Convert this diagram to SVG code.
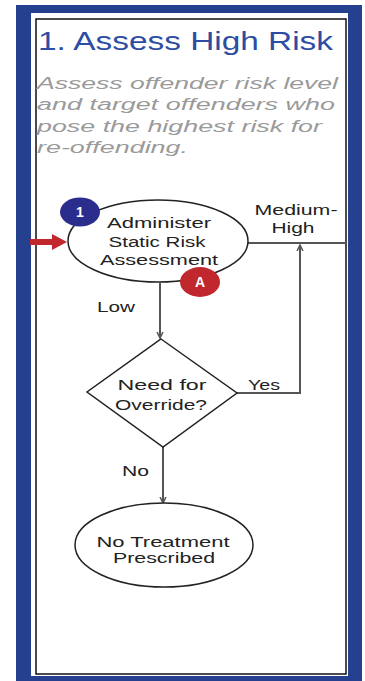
<svg xmlns="http://www.w3.org/2000/svg" width="365" height="681" viewBox="0 0 365 681">
<defs>
<style>
.t{font-family:"Liberation Sans",Arial,sans-serif;font-size:14px;fill:#222;}
.sub{font-family:"Liberation Sans",Arial,sans-serif;font-size:16px;font-style:italic;fill:#9a9a9a;}
.title{font-family:"Liberation Sans",Arial,sans-serif;font-size:26px;fill:#2c4da3;}
.shape{fill:#fff;stroke:#222;stroke-width:1.5;}
.conn{fill:none;stroke:#555;stroke-width:2;}
.badge{font-family:"Liberation Sans",Arial,sans-serif;font-size:14px;font-weight:bold;fill:#fff;}
</style>
<marker id="arr" markerWidth="8" markerHeight="8" refX="6" refY="4" orient="auto" markerUnits="userSpaceOnUse">
<path d="M0,1 L6,4 L0,7" fill="none" stroke="#555" stroke-width="1.5"/>
</marker>
</defs>
<rect x="0" y="0" width="365" height="681" fill="#fff"/>
<rect x="16" y="5" width="346" height="676" fill="#24408e"/>
<rect x="31" y="13" width="317" height="663" fill="#fff"/>
<rect x="36" y="19" width="310" height="655" fill="none" stroke="#111" stroke-width="1.5"/>

<g id="title">
<text class="title" x="38" y="50" textLength="295" lengthAdjust="spacingAndGlyphs">1. Assess High Risk</text>
</g>
<g id="subtitle">
<text class="sub" x="37" y="89" textLength="301" lengthAdjust="spacingAndGlyphs">Assess offender risk level</text>
<text class="sub" x="37" y="110" textLength="298" lengthAdjust="spacingAndGlyphs">and target offenders who</text>
<text class="sub" x="37" y="132" textLength="285" lengthAdjust="spacingAndGlyphs">pose the highest risk for</text>
<text class="sub" x="37" y="153" textLength="151" lengthAdjust="spacingAndGlyphs">re-offending.</text>
</g>

<g id="connectors">
<path class="conn" d="M248,243 H346"/>
<path class="conn" d="M160,283 V338" marker-end="url(#arr)"/>
<path class="conn" d="M237,393 H300 V245" marker-end="url(#arr)"/>
<path class="conn" d="M163,447 V503" marker-end="url(#arr)"/>
<text class="t" x="97" y="312" textLength="38" lengthAdjust="spacingAndGlyphs">Low</text>
<text class="t" x="296" y="215" text-anchor="middle" textLength="83" lengthAdjust="spacingAndGlyphs">Medium-</text>
<text class="t" x="293" y="233" text-anchor="middle" textLength="43" lengthAdjust="spacingAndGlyphs">High</text>
<text class="t" x="248" y="390" textLength="32" lengthAdjust="spacingAndGlyphs">Yes</text>
<text class="t" x="122" y="476" textLength="27" lengthAdjust="spacingAndGlyphs">No</text>
</g>

<g id="entry-arrow">
<path d="M30,239 H52 V234 L67,242 L52,250 V245 H30 Z" fill="#c0282d"/>
</g>

<g id="node-assess">
<ellipse class="shape" cx="158" cy="241" rx="90" ry="41"/>
<text class="t" x="159" y="228" text-anchor="middle" textLength="104" lengthAdjust="spacingAndGlyphs">Administer</text>
<text class="t" x="157" y="247" text-anchor="middle" textLength="97" lengthAdjust="spacingAndGlyphs">Static Risk</text>
<text class="t" x="159" y="265" text-anchor="middle" textLength="118" lengthAdjust="spacingAndGlyphs">Assessment</text>
</g>

<g id="badge-1">
<ellipse cx="80" cy="212" rx="20" ry="14.5" fill="#2b2d8c"/>
<text class="badge" x="80" y="217" text-anchor="middle">1</text>
</g>

<g id="badge-A">
<ellipse cx="200" cy="282" rx="20" ry="15" fill="#c0282d"/>
<text class="badge" x="200" y="287" text-anchor="middle">A</text>
</g>

<g id="node-override">
<polygon class="shape" points="161,339 237,393 163,447 87,392"/>
<text class="t" x="162" y="390" text-anchor="middle" textLength="89" lengthAdjust="spacingAndGlyphs">Need for</text>
<text class="t" x="161" y="410" text-anchor="middle" textLength="92" lengthAdjust="spacingAndGlyphs">Override?</text>
</g>

<g id="node-notreatment">
<ellipse class="shape" cx="164" cy="545" rx="89" ry="42"/>
<text class="t" x="163" y="547" text-anchor="middle" textLength="133" lengthAdjust="spacingAndGlyphs">No Treatment</text>
<text class="t" x="164" y="563" text-anchor="middle" textLength="102" lengthAdjust="spacingAndGlyphs">Prescribed</text>
</g>
</svg>
